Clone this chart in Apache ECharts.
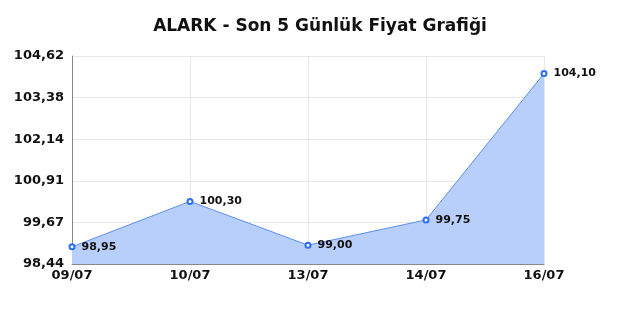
<!DOCTYPE html>
<html>
<head>
<meta charset="utf-8">
<script src="https://cdn.jsdelivr.net/npm/echarts@6/dist/echarts.min.js"></script>
<style>
  html, body { margin: 0; padding: 0; background: #fff; }
  #chart { width: 640px; height: 320px; }
</style>
</head>
<body>
<div id="chart"></div>
<script>
const dates = ["09/07", "10/07", "13/07", "14/07", "16/07"];
const prices = [98.95, 100.30, 99.00, 99.75, 104.10];
const yTicks = [98.44, 99.676, 100.912, 102.148, 103.384, 104.62];
const yTickLabels = ["98,44", "99,67", "100,91", "102,14", "103,38", "104,62"];

const chart = echarts.init(document.getElementById("chart"));

const option = {
    backgroundColor: "#ffffff",
    animation: false,
    title: {
        text: "ALARK - Son 5 Günlük Fiyat Grafiği",
        left: "center",
        top: 13,
        textStyle: {
            fontFamily: "DejaVu Sans",
            fontSize: 17,
            fontWeight: "bold",
            color: "#111",
        },
    },
    grid: { left: 72, right: 96, top: 56, bottom: 56 },
    xAxis: {
        type: "category",
        data: dates,
        boundaryGap: false,
        axisLine: { lineStyle: { color: "#888", width: 1 } },
        axisTick: { show: false },
        axisLabel: {
            color: "#111",
            fontFamily: "DejaVu Sans",
            fontWeight: "bold",
            fontSize: 13,
            margin: 5,
        },
        splitLine: { show: true, lineStyle: { color: "#e8e8e8" } },
    },
    yAxis: {
        type: "value",
        min: yTicks[0],
        max: yTicks[yTicks.length - 1],
        axisLine: { show: true, lineStyle: { color: "#888", width: 1 } },
        axisTick: { show: false, customValues: yTicks },
        axisLabel: {
            customValues: yTicks,
            color: "#111",
            fontFamily: "DejaVu Sans",
            fontWeight: "bold",
            fontSize: 13,
            margin: 8,
            formatter: (v) => yTickLabels[yTicks.findIndex((t) => Math.abs(t - v) < 1e-6)] || "",
        },
        splitLine: { show: true, lineStyle: { color: "#e8e8e8" } },
    },
    series: [
        {
            type: "line",
            data: prices,
            symbol: "emptyCircle",
            symbolSize: 5,
            itemStyle: { color: "#2b6ff0", borderWidth: 1.5 },
            lineStyle: { color: "#5b8ff0", width: 1 },
            areaStyle: { color: "#b7cffa", opacity: 1 },
            label: {
                show: true,
                position: "right",
                distance: 6,
                color: "#111",
                fontFamily: "DejaVu Sans",
                fontWeight: "bold",
                fontSize: 11,
                formatter: (p) => p.value.toFixed(2).replace(".", ","),
            },
        },
    ],
};

chart.setOption(option);
</script>
</body>
</html>
